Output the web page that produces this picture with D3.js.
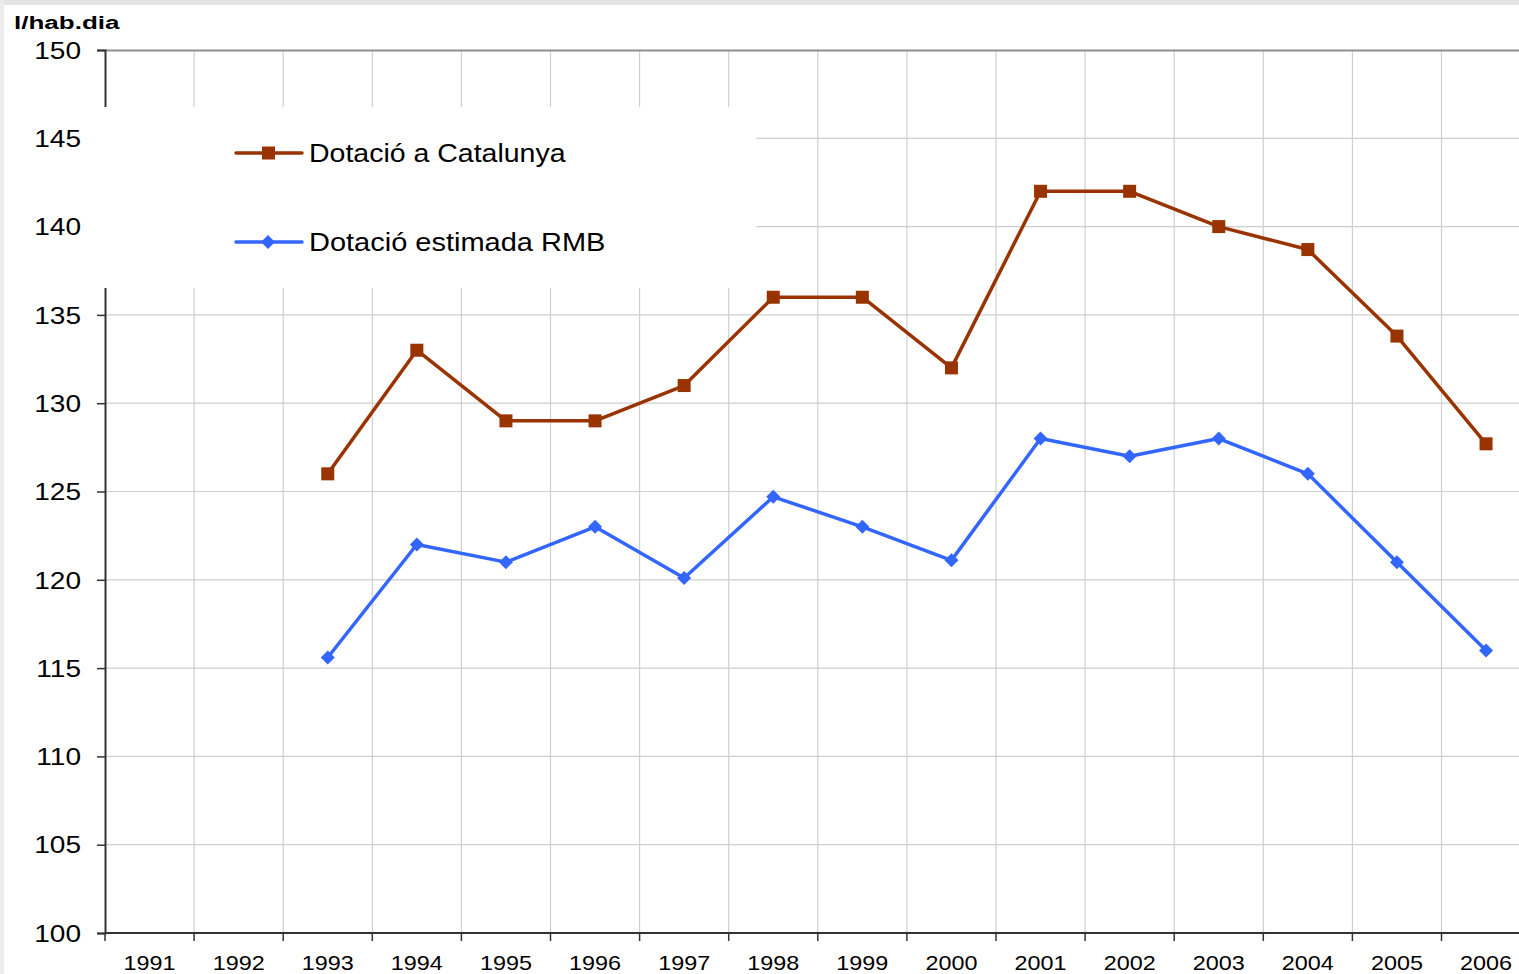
<!DOCTYPE html>
<html>
<head>
<meta charset="utf-8">
<script src="https://cdn.jsdelivr.net/npm/d3@7"></script>
<style>
  body { margin: 0; background: #fff; }
  svg { display: block; font-family: "Liberation Sans", Arial, sans-serif; }
</style>
</head>
<body>
<div id="chart-container"></div>
<script>
const years = ["1991","1992","1993","1994","1995","1996","1997","1998","1999","2000","2001","2002","2003","2004","2005","2006"];
const catalunya = [null, null, 126, 133, 129, 129, 131, 136, 136, 132, 142, 142, 140, 138.7, 133.8, 127.7];
const rmb = [null, null, 115.6, 122, 121, 123, 120.1, 124.7, 123, 121.1, 128, 127, 128, 126, 121, 116];
const yTicks = [100, 105, 110, 115, 120, 125, 130, 135, 140, 145, 150];
const seriesNames = ["Dotació a Catalunya", "Dotació estimada RMB"];

const W = 1519, H = 974;
const plotLeft = 105, plotTop = 50, plotBottom = 933;
const bandW = 89.1;

const svg = d3.select("#chart-container")
  .append("svg")
    .attr("width", W)
    .attr("height", H);

// light frame at the edges
svg.append("rect").attr("x", 0).attr("y", 0).attr("width", W).attr("height", 5).attr("fill", "#e4e4e4");
svg.append("rect").attr("x", 0).attr("y", 0).attr("width", 4).attr("height", H).attr("fill", "#ececec");

const x = d3.scaleBand()
  .domain(years)
  .range([plotLeft, plotLeft + bandW * years.length]);

const y = d3.scaleLinear()
  .domain([100, 150])
  .range([plotBottom, plotTop]);

// horizontal gridlines
svg.selectAll("yGrid")
  .data(yTicks.slice(1, -1))
  .join("line")
  .attr("x1", plotLeft)
  .attr("x2", W)
  .attr("y1", d => y(d))
  .attr("y2", d => y(d))
  .attr("stroke", "#cfcfcf")
  .attr("stroke-width", 1.2);

// vertical gridlines
svg.selectAll("xGrid")
  .data(years.slice(1))
  .join("line")
  .attr("x1", d => x(d))
  .attr("x2", d => x(d))
  .attr("y1", plotTop)
  .attr("y2", plotBottom)
  .attr("stroke", "#cfcfcf")
  .attr("stroke-width", 1.2);

// top border
svg.append("line")
  .attr("x1", plotLeft).attr("x2", W)
  .attr("y1", y(150) + 0.5).attr("y2", y(150) + 0.5)
  .attr("stroke", "#8f8f8f")
  .attr("stroke-width", 2);

// y axis
const yAxis = svg.append("g")
  .attr("transform", `translate(${plotLeft},0)`)
  .call(d3.axisLeft(y).tickValues(yTicks).tickSize(8).tickPadding(0).tickFormat(d3.format("d")));
yAxis.select(".domain").attr("stroke", "#333").attr("stroke-width", 2);
yAxis.selectAll(".tick line").attr("stroke", "#333").attr("stroke-width", 1.5);
yAxis.selectAll(".tick text").remove();
yAxis.selectAll(".tick")
  .append("g")
  .attr("transform", "translate(-24,0) scale(1.22,1)")
  .append("text")
  .attr("text-anchor", "end")
  .attr("dy", "0.36em")
  .attr("fill", "#000")
  .style("font-size", "23px")
  .text(d => d);

// x axis
const xAxis = svg.append("g")
  .attr("transform", `translate(0,${plotBottom})`)
  .call(d3.axisBottom(x).tickSize(0).tickPadding(0));
xAxis.select(".domain").attr("stroke", "#333").attr("stroke-width", 2).attr("d", `M${plotLeft},0H${W}`);
xAxis.selectAll(".tick text").remove();
xAxis.selectAll(".tick")
  .append("g")
  .attr("transform", "translate(0,37) scale(1.17,1)")
  .append("text")
  .attr("text-anchor", "middle")
  .attr("fill", "#000")
  .style("font-size", "20px")
  .text(d => d);

svg.selectAll("xTickMark")
  .data(years)
  .join("line")
  .attr("x1", d => x(d))
  .attr("x2", d => x(d))
  .attr("y1", plotBottom)
  .attr("y2", plotBottom + 8)
  .attr("stroke", "#333")
  .attr("stroke-width", 1.5);

// unit label
svg.append("g")
  .attr("transform", "translate(14,29) scale(1.37,1)")
  .append("text")
  .style("font-size", "19px")
  .style("font-weight", "bold")
  .attr("fill", "#000")
  .text("l/hab.dia");

// legend box (covers the grid like the original)
svg.append("rect")
  .attr("x", 81).attr("y", 107)
  .attr("width", 675).attr("height", 181)
  .attr("fill", "#fff");

const colors = ["#993300", "#3366ff"];
const seriesData = [catalunya, rmb];

const line = d3.line()
  .defined(d => d.v != null)
  .x(d => x(d.year) + x.bandwidth() / 2)
  .y(d => y(d.v));

seriesData.forEach((vals, si) => {
  const pts = years.map((yr, i) => ({ year: yr, v: vals[i] }));
  svg.append("path")
    .datum(pts)
    .attr("fill", "none")
    .attr("stroke", colors[si])
    .attr("stroke-width", 3.5)
    .attr("stroke-linejoin", "round")
    .attr("d", line);

  const valid = pts.filter(d => d.v != null);
  if (si === 0) {
    svg.selectAll("sq")
      .data(valid)
      .join("rect")
      .attr("x", d => x(d.year) + x.bandwidth() / 2 - 6.5)
      .attr("y", d => y(d.v) - 6.5)
      .attr("width", 13)
      .attr("height", 13)
      .attr("fill", colors[si]);
  } else {
    svg.selectAll("dm")
      .data(valid)
      .join("path")
      .attr("transform", d => `translate(${x(d.year) + x.bandwidth() / 2},${y(d.v)})`)
      .attr("d", "M0,-7L7,0L0,7L-7,0Z")
      .attr("fill", colors[si]);
  }
});

// legend entries
const legendY = [153, 242];
const legendScale = [1.14, 1.16];
seriesNames.forEach((name, i) => {
  const g = svg.append("g").attr("transform", `translate(236,${legendY[i]})`);
  g.append("line")
    .attr("x1", 0).attr("x2", 66)
    .attr("stroke", colors[i])
    .attr("stroke-width", 3.5)
    .attr("stroke-linecap", "round");
  if (i === 0) {
    g.append("rect").attr("x", 26).attr("y", -6.5).attr("width", 13).attr("height", 13).attr("fill", colors[i]);
  } else {
    g.append("path").attr("transform", "translate(32,0)").attr("d", "M0,-7L7,0L0,7L-7,0Z").attr("fill", colors[i]);
  }
  g.append("g")
    .attr("transform", `translate(73,9) scale(${legendScale[i]},1)`)
    .append("text")
    .style("font-size", "25px")
    .attr("fill", "#000")
    .text(name);
});
</script>
</body>
</html>
